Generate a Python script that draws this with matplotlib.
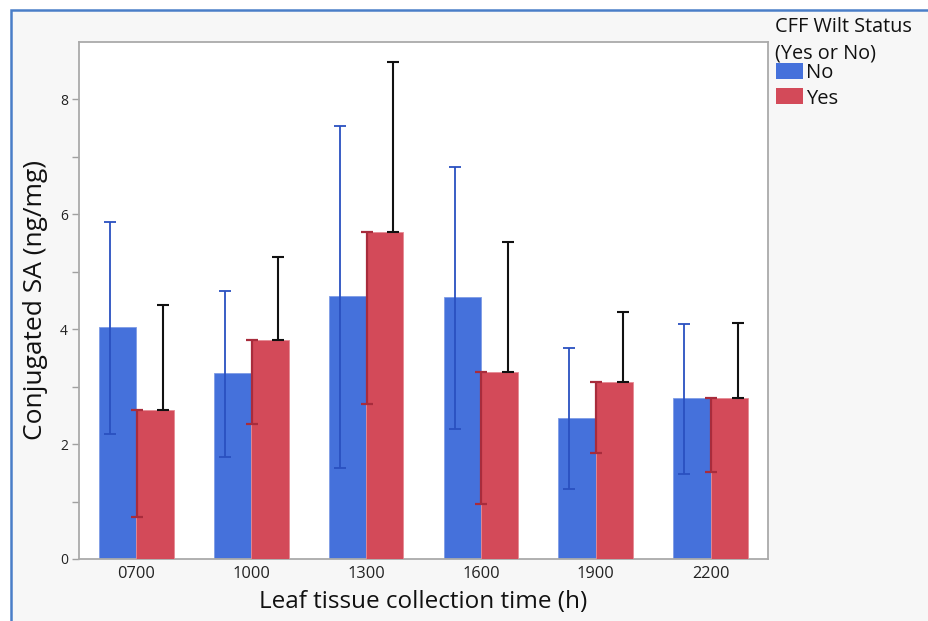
from matplotlib import pyplot as plt, patches
import numpy as np

# collection times and group means / error limits
times = ["0700", "1000", "1300", "1600", "1900", "2200"]
no_mean = [4.03, 3.23, 4.57, 4.56, 2.46, 2.80]
no_low = [2.17, 1.78, 1.58, 2.27, 1.21, 1.48]
no_high = [5.86, 4.67, 7.54, 6.83, 3.67, 4.09]
yes_mean = [2.60, 3.82, 5.69, 3.26, 3.08, 2.81]
yes_low = [0.73, 2.35, 2.70, 0.95, 1.84, 1.51]
yes_high = [4.43, 5.25, 8.65, 5.52, 4.30, 4.11]

blue = "#4571DB"
red = "#D34A59"

plt.rcParams['font.family'] = ['Open Sans', 'DejaVu Sans']

fig = plt.figure(figsize=(9.29, 6.21), dpi=100)
fig.patch.set_facecolor("white")
# outer frame like the JMP window
fig.patches.append(patches.Rectangle((11/929, -0.1), 1.2, 1.1 - 10/621, transform=fig.transFigure,
	facecolor="#F7F7F7", edgecolor="#4A7EC8", lw=1.8, zorder=-10))

ax = fig.add_axes([79/929, 1 - 559/621, (768 - 79)/929, (559 - 42)/621])
ax.set_facecolor("white")

x = np.arange(len(times))
w = 0.325
ax.bar(x - w/2, no_mean, width=w, color=blue, edgecolor="#7F9CE6", lw=0.6, zorder=2, label="No")
ax.bar(x + w/2, yes_mean, width=w, color=red, edgecolor="#E58A94", lw=0.6, zorder=4, label="Yes")

no_mean = np.array(no_mean)
yes_mean = np.array(yes_mean)
# blue error bars (full range)
ax.errorbar(x - 0.23, no_mean, yerr=[no_mean - np.array(no_low), np.array(no_high) - no_mean],
	fmt="none", ecolor="#2A50C0", elinewidth=1.3, capsize=4.5, capthick=1.3, zorder=3)
# red lower part at the bar boundary
ax.errorbar(x + 0.005, yes_mean, yerr=[yes_mean - np.array(yes_low), np.zeros(len(x))],
	fmt="none", ecolor="#A82C3C", elinewidth=1.6, capsize=4.5, capthick=1.6, zorder=5)
# black upper part
ax.errorbar(x + 0.235, yes_mean, yerr=[np.zeros(len(x)), np.array(yes_high) - yes_mean],
	fmt="none", ecolor="#111111", elinewidth=1.5, capsize=4.5, capthick=1.5, zorder=6)

ax.set_xlim(-0.5, 5.5)
ax.set_ylim(0, 9.0)
ax.set_xticks(x)
ax.set_xticklabels(times, fontsize=11.8, color="#222222")
ax.tick_params(axis="x", length=0, pad=5)
ax.set_yticks([0, 2, 4, 6, 8])
ax.set_yticks([1, 3, 5, 7], minor=True)
ax.tick_params(axis="y", which="both", length=5, width=1, color="#A0A0A0", labelsize=10, labelcolor="#222222", pad=3)
for s in ax.spines.values():
	s.set_color("#AAAAAA")
	s.set_linewidth(1.3)

ax.set_xlabel("Leaf tissue collection time (h)", fontsize=17.5, color="#111111")
ax.set_ylabel("Conjugated SA (ng/mg)", fontsize=19, color="#111111")
ax.xaxis.set_label_coords(0.5, -0.060)
ax.yaxis.set_label_coords(-0.045, 0.5)

fig.text(775/929, 1 - 32/621, "CFF Wilt Status", fontsize=14.3, color="#111111", va="baseline", ha="left")
fig.text(775/929, 1 - 59/621, "(Yes or No)", fontsize=14.3, color="#111111", va="baseline", ha="left")
fig.patches.append(patches.Rectangle((776/929, 1 - 79/621), 27/929, 16/621, transform=fig.transFigure,
	facecolor=blue, edgecolor="none"))
fig.patches.append(patches.Rectangle((776/929, 1 - 104/621), 27/929, 16/621, transform=fig.transFigure,
	facecolor=red, edgecolor="none"))
fig.text(806/929, 1 - 78/621, "No", fontsize=14.5, color="#111111", va="baseline", ha="left")
fig.text(806/929, 1 - 104/621, "Yes", fontsize=14.5, color="#111111", va="baseline", ha="left")

plt.savefig("out.png", dpi=100)
plt.close()
